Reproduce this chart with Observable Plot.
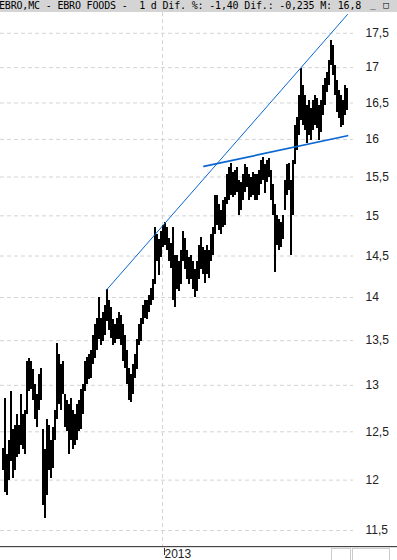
<!DOCTYPE html>
<html><head><meta charset="utf-8">
<script src="https://cdn.jsdelivr.net/npm/d3@7"></script>
<script src="https://cdn.jsdelivr.net/npm/@observablehq/plot@0.6"></script>
<style>
html,body{margin:0;padding:0;background:#fff;}
body{width:397px;height:560px;overflow:hidden;position:relative;}
#hdr{position:relative;height:12px;background:#d4d4d4;overflow:hidden;}
#hdr .t{position:absolute;left:-1px;top:0;width:366px;overflow:hidden;font:10px "DejaVu Sans Mono",monospace;line-height:11px;letter-spacing:-0.18px;white-space:pre;color:#000;}
#hdr .b{position:absolute;top:1px;width:12px;height:9px;font:9px "DejaVu Sans Mono",monospace;line-height:9px;text-align:center;color:#000;}
#axisline{position:absolute;left:0;top:546px;width:397px;height:1px;background:#444;}
#axisline2{position:absolute;left:0;top:547px;width:397px;height:1px;background:#ddd;}
.sb{position:absolute;top:548px;height:12px;border:1px solid #ccc;border-bottom:none;box-sizing:border-box;}
#chart svg{display:block;}
</style></head><body>
<div id="hdr"><span class="t">EBRO,MC - EBRO FOODS -  1 d Dif. %: -1,40 Dif.: -0,235 M: 16,8</span><span class="b" style="left:367px;">_</span><span class="b" style="left:380px;">□</span></div>
<div id="chart"></div>
<div id="axisline"></div><div id="axisline2"></div>
<div class="sb" style="left:331px;width:20px;"></div><div class="sb" style="left:352px;width:38px;"></div>
<script>
const high = [
12.33,12.86,12.26,12.41,12.93,12.52,12.57,12.68,12.57,12.90,
12.68,12.73,13.26,13.30,13.26,13.17,13.01,12.90,13.12,13.19,
12.52,12.31,12.63,12.57,12.41,12.54,12.73,13.47,13.34,13.23,
13.26,12.90,12.84,12.79,12.86,12.73,12.68,12.79,12.84,12.95,
13.01,13.26,13.31,13.34,13.39,13.56,13.68,13.76,14.00,13.76,
13.83,13.91,14.09,13.97,13.88,13.74,13.68,13.76,13.83,13.79,
13.68,13.56,13.39,13.19,13.12,13.23,13.34,13.51,13.68,13.76,
13.91,13.97,13.97,14.03,14.11,14.21,14.85,14.76,14.70,14.80,
14.88,14.91,14.85,14.72,14.66,14.85,14.51,14.51,14.43,14.57,
14.80,14.72,14.57,14.48,14.51,14.43,14.33,14.43,14.63,14.73,
14.60,14.57,14.63,14.57,14.76,14.85,15.26,15.26,15.14,15.07,
15.20,15.23,15.53,15.62,15.68,15.56,15.59,15.62,15.46,15.43,
15.53,15.66,15.62,15.53,15.49,15.56,15.53,15.53,15.59,15.72,
15.76,15.66,15.72,15.75,15.59,15.40,15.14,15.01,14.95,14.92,
15.01,15.46,15.66,15.68,15.46,15.72,16.19,16.30,16.60,16.99,
16.74,16.60,16.46,16.53,16.42,16.53,16.60,16.56,16.46,16.53,
16.74,16.85,16.93,17.10,17.40,17.32,17.03,16.82,16.67,16.60,
16.53,16.74,16.70];
const low = [
12.10,11.88,11.85,12.00,12.19,12.02,12.10,12.23,12.26,12.36,
12.31,12.26,12.68,12.93,12.95,12.84,12.63,12.54,12.73,12.84,
11.75,11.62,11.85,12.10,12.02,12.12,12.41,12.63,12.79,12.73,
12.90,12.54,12.50,12.26,12.41,12.31,12.36,12.41,12.50,12.52,
12.68,12.93,13.01,13.06,13.08,13.23,13.30,13.39,13.51,13.45,
13.49,13.56,13.72,13.62,13.53,13.45,13.47,13.51,13.51,13.45,
13.26,13.19,13.01,12.84,12.81,12.90,13.08,13.17,13.45,13.49,
13.68,13.76,13.74,13.83,13.91,13.97,14.15,14.43,14.26,14.48,
14.60,14.63,14.57,14.43,14.35,13.97,13.88,14.09,14.07,14.15,
14.43,14.33,14.21,14.15,14.21,14.09,14.00,14.07,14.21,14.33,
14.27,14.17,14.27,14.23,14.43,14.51,14.76,14.88,14.82,14.76,
14.85,14.88,15.14,15.20,15.26,15.23,15.26,15.30,15.01,15.07,
15.20,15.30,15.36,15.20,15.23,15.26,15.20,15.20,15.26,15.40,
15.46,15.29,15.43,15.49,15.20,15.01,14.30,14.63,14.57,14.60,
14.70,15.07,15.26,15.33,14.51,15.01,15.66,15.85,16.05,16.26,
16.19,16.12,15.95,16.05,15.99,16.12,16.19,16.15,15.99,16.09,
16.33,16.46,16.64,16.74,17.03,16.89,16.60,16.37,16.29,16.16,
16.19,16.33,16.40];
const yTicks = [11.5,12,12.5,13,13.5,14,14.5,15,15.5,16,16.5,17,17.5];
const xTickIndex = [80];
const xTickLabels = ["2013"];
const trendUpX = [52, 172.5];
const trendUpY = [14.09, 17.78];
const trendSupX = [100.7, 172.5];
const trendSupY = [15.64, 16.05];

const bars = high.map((h, i) => ({i, high: h, low: low[i]}));
const trendUp = trendUpX.map((x, k) => ({x, y: trendUpY[k]}));
const trendSup = trendSupX.map((x, k) => ({x, y: trendSupY[k]}));

const chart = Plot.plot({
  width: 397, height: 548,
  marginLeft: 0, marginRight: 44, marginTop: 0, marginBottom: 14,
  x: {domain: [-1, 175.5]},
  y: {type: "log", domain: [11.346, 17.81]},
  style: {fontFamily: "'Liberation Sans', Arial, sans-serif", fontSize: "12px", color: "#222", background: "transparent", overflow: "visible"},
  marks: [
    Plot.ruleY(yTicks, {stroke: "#d4d4d4", strokeDasharray: "4,3"}),
    Plot.ruleX(xTickIndex, {stroke: "#d4d4d4", strokeDasharray: "4,3"}),
    Plot.ruleX(bars, {x: "i", y1: "low", y2: "high", stroke: "#000", strokeWidth: 2, shapeRendering: "crispEdges"}),
    Plot.line(trendUp, {x: "x", y: "y", stroke: "#0a66d2", strokeWidth: 1}),
    Plot.line(trendSup, {x: "x", y: "y", stroke: "#0a66d2", strokeWidth: 1.7}),
    Plot.axisY({anchor: "right", ticks: yTicks, tickSize: 0, tickPadding: 12, label: null,
      tickFormat: d => String(d).replace(".", ",")}),
    Plot.axisX({ticks: xTickIndex, tickSize: 9, tickPadding: -6, label: null, stroke: "#333",
      textAnchor: "start", dx: 2, tickFormat: (d, k) => xTickLabels[xTickIndex.indexOf(d)]})
  ]
});
document.getElementById("chart").appendChild(chart);
</script>
</body></html>
